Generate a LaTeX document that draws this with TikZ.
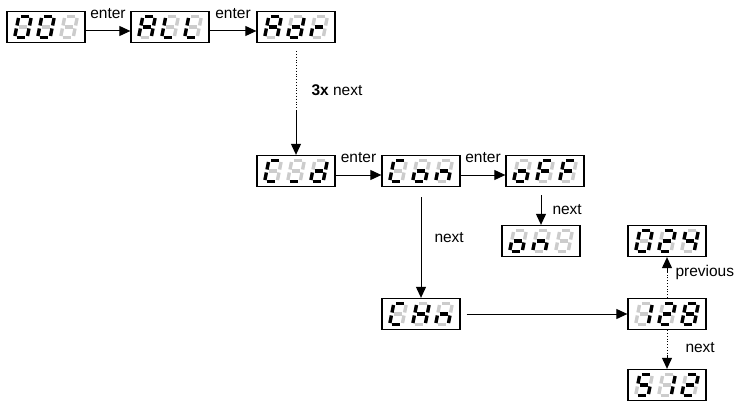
\documentclass[tikz,border=0pt]{standalone}
\usepackage{fontspec}
\setmainfont{Liberation Sans}
\usetikzlibrary{arrows.meta}

\definecolor{segoff}{gray}{0.80}

\tikzset{
  disp/.style={draw, line width=1.3pt, minimum width=78pt, minimum height=31pt, inner sep=0pt},
  s0/.style={draw=segoff},
  s1/.style={draw=black},
  lbl/.style={font=\fontsize{15.5}{18}\selectfont, inner sep=1pt},
}

% seven segments a b c d e f g
\def\segbits#1#2#3#4#5#6#7{%
  \draw[s#1] (-4.3,-10.6) -- (4.3,-10.6);
  \draw[s#2] (6.3,-9) -- (6.3,-1.5);
  \draw[s#3] (6.3,1.5) -- (6.3,9);
  \draw[s#4] (-4.3,10.6) -- (4.3,10.6);
  \draw[s#5] (-6.3,1.5) -- (-6.3,9);
  \draw[s#6] (-6.3,-9) -- (-6.3,-1.5);
  \draw[s#7] (-4.2,0) -- (4.2,0);
}
\newcommand\segdigit[2]{%
  \begin{scope}[shift={(#1,0)},xslant=0.2,line width=3.4pt]\segbits#2\end{scope}}
\newcommand\display[5]{%
  \node[disp] (#1) at (#2) {};
  \begin{scope}[shift={(#1.center)}]
    \segdigit{-23}{#3}\segdigit{0}{#4}\segdigit{23}{#5}
  \end{scope}}

\begin{document}
\begin{tikzpicture}[x=1pt, y=-1pt, >={Triangle[length=11pt,width=10pt]}, line width=1pt]
\useasboundingbox (0,0) rectangle (747,404);

%Displays
\display{d001}{46,27}{1111110}{1111110}{0000000}
\display{dALL}{170,27}{1110111}{0001110}{0001110}
\display{dAdr}{296,27}{1110111}{0111101}{0000101}
\display{dCLd}{296,171}{1001110}{0001000}{0111101}
\display{dCon}{421,171}{1001110}{0011101}{0010101}
\display{doFF}{545,171}{0011101}{1000111}{1000111}
\display{don}{541,241}{0011101}{0010101}{0000000}
\display{dCHn}{421,314}{1001110}{0110111}{0010101}
\display{d128}{667,314}{0110000}{1101101}{1111111}
\display{d024}{667,241}{1111110}{1101101}{0110011}
\display{d512}{667,385}{1011011}{0110000}{1101101}

%Top row
\draw[->] ([yshift=-4pt]d001.east) -- node[lbl, above, yshift=11pt] {enter} ([yshift=-4pt]dALL.west);
\draw[->] ([yshift=-4pt]dALL.east) -- node[lbl, above, yshift=11pt] {enter} ([yshift=-4pt]dAdr.west);

%Down to CLd
\coordinate (m1) at (296,110);
\draw[dotted, line width=0.8pt] ([yshift=-8pt]dAdr.south) -- (m1);
\draw[->] (m1) -- (dCLd.north);
\node[lbl, anchor=west] (rep) at (310,90) {\textbf{3x} next};

%Second row
\draw[->] ([yshift=-4pt]dCLd.east) -- node[lbl, above, yshift=11pt] {enter} ([yshift=-4pt]dCon.west);
\draw[->] ([yshift=-4pt]dCon.east) -- node[lbl, above, yshift=11pt] {enter} ([yshift=-4pt]doFF.west);
\draw[->] ([yshift=-8pt]doFF.south -| don.north) -- node[lbl, right=10pt] {next} (don.north);
\draw[->] ([yshift=-10pt]dCon.south) -- node[lbl, right=12pt, pos=0.4] {next} (dCHn.north);

%Channels
\draw[->] ([xshift=6pt]dCHn.east) -- (d128.west);
\coordinate (m2) at (667,272);
\coordinate (m3) at (667,356);
\draw[dotted, line width=0.8pt] (d128.north) -- (m2);
\draw[->] (m2) -- (d024.south);
\draw[dotted, line width=0.8pt] (d128.south) -- (m3);
\draw[->] (m3) -- (d512.north);
\node[lbl, anchor=west] (prev) at (674,272) {previous};
\node[lbl, anchor=west] (nxt) at (684,348) {next};

\end{tikzpicture}
\end{document}
